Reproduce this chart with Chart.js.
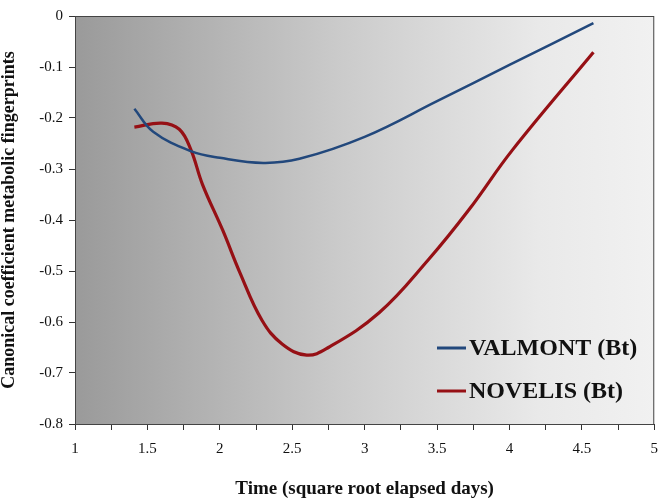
<!DOCTYPE html>
<html>
<head>
<meta charset="utf-8">
<script src="https://cdn.jsdelivr.net/npm/chart.js@4/dist/chart.umd.min.js"></script>
<style>
html,body{margin:0;padding:0;background:#fff;}
#wrap{width:668px;height:499px;}
</style>
</head>
<body>
<div id="wrap"><canvas id="c" width="668" height="499"></canvas></div>
<script>
const seriesNames = ['VALMONT (Bt)', 'NOVELIS (Bt)'];
const valmontX = [1.41, 1.54, 1.8, 2.0, 2.3, 2.55, 3.0, 3.5, 4.0, 4.58];
const valmontY = [-0.182, -0.227, -0.265, -0.278, -0.288, -0.280, -0.237, -0.167, -0.096, -0.014];
const novelisX = [1.41, 1.6, 1.72, 1.8, 1.88, 2.02, 2.14, 2.29, 2.43, 2.6, 2.75, 3.1, 3.44, 3.72, 4.02, 4.58];
const novelisY = [-0.218, -0.210, -0.222, -0.262, -0.330, -0.420, -0.504, -0.596, -0.643, -0.665, -0.650, -0.582, -0.478, -0.380, -0.263, -0.071];
const xTickLabels = ['1', '1.5', '2', '2.5', '3', '3.5', '4', '4.5', '5'];
const yTickLabels = ['0', '-0.1', '-0.2', '-0.3', '-0.4', '-0.5', '-0.6', '-0.7', '-0.8'];
const axisTitles = ['Time (square root elapsed days)', 'Canonical coefficient metabolic fingerprints'];

const colors = ['#22487c', '#961015'];
const serif = '"Liberation Serif", "Times New Roman", serif';

function pts(xs, ys){ return xs.map((x,i)=>({x:x, y:ys[i]})); }

const bgPlugin = {
  id: 'bg',
  beforeDraw(chart){
    const {ctx, chartArea:a} = chart;
    const g = ctx.createLinearGradient(a.left, 0, a.right, 0);
    g.addColorStop(0, '#9a9a9a');
    g.addColorStop(0.45, '#cacaca');
    g.addColorStop(0.8, '#e9e9e9');
    g.addColorStop(1, '#f1f1f1');
    ctx.save();
    ctx.fillStyle = g;
    ctx.fillRect(a.left, a.top, a.right - a.left, a.bottom - a.top);
    ctx.restore();
  },
  afterDatasetsDraw(chart){
    const {ctx, chartArea:a} = chart;
    ctx.save();
    ctx.strokeStyle = '#444';
    ctx.lineWidth = 1;
    ctx.strokeRect(a.left + 0.5, a.top + 0.5, a.right - a.left - 1, a.bottom - a.top);
    ctx.font = 'bold 24px ' + serif;
    ctx.textBaseline = 'middle';
    ctx.textAlign = 'left';
    const rows = [348, 391];
    chart.data.datasets.forEach((ds, i) => {
      const y = rows[i];
      ctx.strokeStyle = ds.borderColor;
      ctx.lineWidth = 3;
      ctx.beginPath();
      ctx.moveTo(437, y);
      ctx.lineTo(466, y);
      ctx.stroke();
      ctx.fillStyle = '#111';
      ctx.fillText(ds.label, 469, y + 1);
    });
    ctx.restore();
  }
};

new Chart(document.getElementById('c'), {
  type: 'line',
  data: {
    datasets: [
      {label: seriesNames[0], data: pts(valmontX, valmontY), borderColor: colors[0], borderWidth: 2.5, pointRadius: 0, tension: 0.4, fill: false},
      {label: seriesNames[1], data: pts(novelisX, novelisY), borderColor: colors[1], borderWidth: 3.2, pointRadius: 0, tension: 0.4, fill: false}
    ]
  },
  options: {
    responsive: false,
    animation: false,
    layout: {padding: {top: 16, right: 12, left: 0, bottom: 0}},
    plugins: {legend: {display: false}, tooltip: {enabled: false}},
    scales: {
      x: {
        type: 'linear', min: 1, max: 5,
        afterFit(s){ s.height = 75; },
        afterBuildTicks(s){ const t=[]; for(let v=1; v<=5.0001; v+=0.25) t.push({value: Math.round(v*100)/100}); s.ticks = t; },
        ticks: {
          autoSkip: false, maxRotation: 0, color: '#111', padding: 10,
          font: {family: serif, size: 15},
          callback(v){ const k = Math.round((v-1)*2); return Math.abs((v-1)*2 - k) < 1e-6 ? xTickLabels[k] : ''; }
        },
        grid: {drawOnChartArea: false, drawTicks: true, tickLength: 6, color: '#333'},
        border: {color: '#333', width: 1},
        title: {display: true, text: axisTitles[0], color: '#111', padding: {top: 0, bottom: 0},
          font: {family: serif, size: 19, weight: 'bold', lineHeight: 1.0}}
      },
      y: {
        type: 'linear', min: -0.8, max: 0,
        afterFit(s){ s.width = 75; },
        afterBuildTicks(s){ s.ticks = yTickLabels.map((l,i)=>({value: -i/10})); },
        ticks: {
          autoSkip: false, color: '#111', padding: 6,
          font: {family: serif, size: 15},
          callback(v){ const k = Math.round(-v*10); return yTickLabels[k]; }
        },
        grid: {drawOnChartArea: false, drawTicks: true, tickLength: 6, color: '#333'},
        border: {color: '#333', width: 1},
        title: {display: true, text: axisTitles[1], color: '#111', padding: {top: 0, bottom: 11},
          font: {family: serif, size: 18, weight: 'bold', lineHeight: 1.0}}
      }
    }
  },
  plugins: [bgPlugin]
});
</script>
</body>
</html>
